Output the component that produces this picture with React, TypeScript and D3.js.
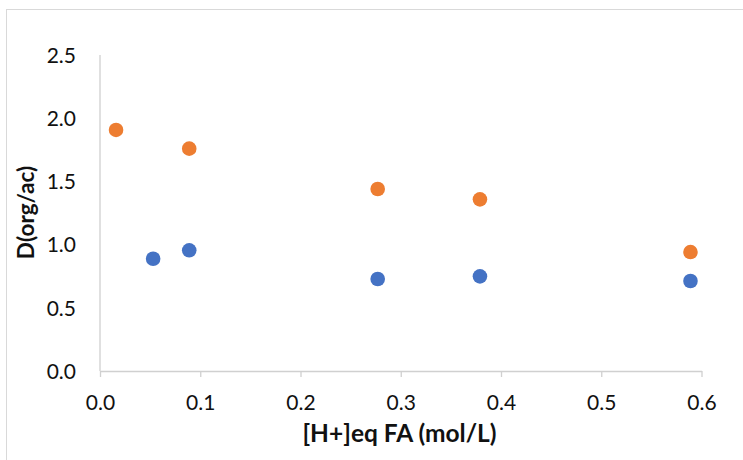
import { useEffect, useRef } from 'react';
import * as d3 from 'd3';

// acid concentration (mol/L) and distribution ratios
const xBlue = [0.053, 0.089, 0.277, 0.379, 0.589];
const dBlue = [0.888, 0.955, 0.728, 0.749, 0.712];
const xOrange = [0.016, 0.089, 0.277, 0.379, 0.589];
const dOrange = [1.907, 1.759, 1.44, 1.358, 0.941];
const xTicks = [0, 0.1, 0.2, 0.3, 0.4, 0.5, 0.6];
const yTicks = [0, 0.5, 1.0, 1.5, 2.0, 2.5];

const W = 743;
const H = 460;

const App = () => {
  const ref = useRef<SVGSVGElement>(null);

  useEffect(() => {
    const svg = d3.select(ref.current);
    svg.selectAll('*').remove();
    const font = 'Lato, "Open Sans", sans-serif';

    // chart frame, runs off the right and bottom edges
    svg.append('rect')
      .attr('x', 6.5).attr('y', 9.5)
      .attr('width', W).attr('height', H)
      .attr('fill', 'white').attr('stroke', '#d9d9d9');

    const x = d3.scaleLinear().domain([0, 0.6]).range([100, 701.5]);
    const y = d3.scaleLinear().domain([0, 2.5]).range([371, 55]);

    // y axis line, no ticks
    svg.append('line')
      .attr('x1', x(0)).attr('x2', x(0))
      .attr('y1', y(2.5)).attr('y2', y(0))
      .attr('stroke', '#d0d0d0').attr('stroke-width', 1.3);

    const xAxis = svg.append('g')
      .attr('transform', `translate(0,${y(0)})`)
      .call(d3.axisBottom(x).tickValues(xTicks).tickSize(6).tickSizeOuter(0).tickFormat(d3.format('.1f')));
    xAxis.select('.domain').attr('stroke', '#d0d0d0').attr('stroke-width', 1.3);
    xAxis.selectAll('.tick line').attr('stroke', '#d0d0d0').attr('stroke-width', 1.3);
    xAxis.selectAll('.tick text')
      .attr('y', 38.5).attr('dy', 0)
      .attr('fill', '#111').style('font-family', font).style('font-size', '21px');

    const yAxis = svg.append('g')
      .attr('transform', 'translate(76,0)')
      .call(d3.axisLeft(y).tickValues(yTicks).tickSize(0).tickFormat(d3.format('.1f')));
    yAxis.select('.domain').remove();
    yAxis.selectAll('.tick text')
      .attr('x', 0).attr('dy', '0.35em')
      .attr('fill', '#111').style('font-family', font).style('font-size', '21px');

    const pts = (xs: number[], ds: number[]) => xs.map((v, i) => ({ x: v, d: ds[i] }));

    svg.append('g').selectAll('circle')
      .data(pts(xBlue, dBlue))
      .enter().append('circle')
      .attr('cx', p => x(p.x)).attr('cy', p => y(p.d))
      .attr('r', 7.3).attr('fill', '#4472c4');

    svg.append('g').selectAll('circle')
      .data(pts(xOrange, dOrange))
      .enter().append('circle')
      .attr('cx', p => x(p.x)).attr('cy', p => y(p.d))
      .attr('r', 7.3).attr('fill', '#ed7d31');

    // axis titles
    svg.append('text').text('[H+]eq FA (mol/L)')
      .attr('x', 399.5).attr('y', 442)
      .attr('text-anchor', 'middle')
      .attr('fill', '#111').style('font-family', font)
      .style('font-size', '24.5px').style('font-weight', 'bold');

    svg.append('text').text('D(org/ac)')
      .attr('transform', 'translate(34,212.5) rotate(-90)')
      .attr('text-anchor', 'middle')
      .attr('fill', '#111').style('font-family', font)
      .style('font-size', '22.5px').style('font-weight', 'bold');
  }, []);

  return (
    <svg ref={ref} width={W} height={H}
      style={{ position: 'absolute', left: 0, top: 0, background: 'white' }} />
  );
};

export default App;
